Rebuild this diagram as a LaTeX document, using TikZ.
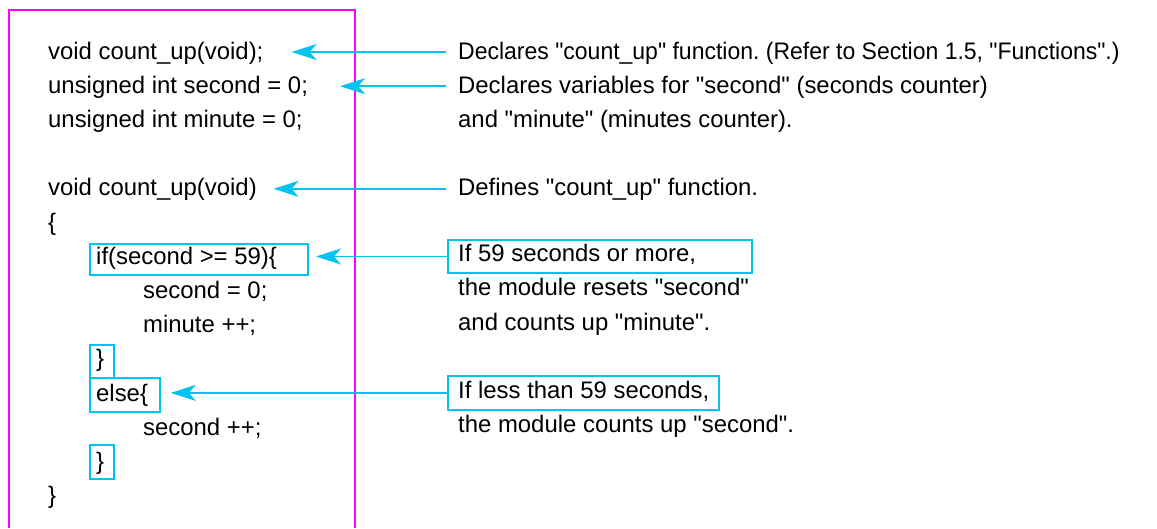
\documentclass[tikz,border=0pt]{standalone}
\usepackage{fontspec}
\setmainfont{Liberation Sans}[Ligatures=TeXOff]
\usetikzlibrary{arrows.meta}
\definecolor{cyanline}{RGB}{0,195,240}
\definecolor{framecol}{RGB}{255,0,255}
\frenchspacing
\begin{document}
\begin{tikzpicture}[x=1pt,y=-1pt,
  codeline/.style={anchor=west, inner xsep=0pt, inner ysep=0pt,
    text height=17pt, text depth=3pt, font=\fontsize{23.9}{28}\selectfont},
  note/.style={codeline, inner xsep=12pt},
  cbox/.style={draw=cyanline, line width=2pt, inner sep=0pt, anchor=north west},
  arr/.style={draw=cyanline, line width=1.5pt,
    -{Stealth[length=25pt,width=16pt,inset=7pt]}}]
\useasboundingbox (0,0) rectangle (1157,528);

% frame around the listing
\draw[framecol, line width=2pt] (9,528) -- (9,10) -- (355,10) -- (355,528);

% highlight boxes in the listing
\node[cbox, minimum width=218pt, minimum height=31.2pt] (ifbox) at (88.7,242.5) {};
\node[cbox, minimum width=24.3pt, minimum height=33.3pt] (close1) at (88.7,343.5) {};
\node[cbox, minimum width=70.6pt, minimum height=34pt] (elsebox) at (88.7,376.8) {};
\node[cbox, minimum width=24.3pt, minimum height=33.3pt] (close2) at (88.7,444.2) {};

% code lines
\node[codeline] (c0) at (48,52) {void count\_up(void);};
\node[codeline] (c1) at (48,86.2) {unsigned int second = 0;};
\node[codeline] (c2) at (48,120.4) {unsigned int minute = 0;};
\node[codeline] (c4) at (48,188.8) {void count\_up(void)};
\node[codeline] (c5) at (48,223) {\{};
\node[codeline] (c6) at (96,257.2) {if(second >= 59)\{};
\node[codeline] (c7) at (143,291.4) {second = 0;};
\node[codeline] (c8) at (143,325.6) {minute ++;};
\node[codeline] (c9) at (96,359.8) {\}};
\node[codeline] (c10) at (96,394) {else\{};
\node[codeline] (c11) at (143,428.2) {second ++;};
\node[codeline] (c12) at (96,462.4) {\}};
\node[codeline] (c13) at (48,496.6) {\}};

% explanations
\node[note] (d0) at (446,52) {\scalebox{0.962}[1]{Declares "count\_up" function. (Refer to Section 1.5, "Functions".)}};
\node[note] (d1) at (446,86.2) {Declares variables for "second" (seconds counter)};
\node[note] (d2) at (446,120.4) {and "minute" (minutes counter).};
\node[note] (d4) at (446,188.8) {Defines "count\_up" function.};
\node[cbox, minimum width=304pt, minimum height=33pt] (r6) at (447,239) {};
\node[note] (d6) at (446,254.7) {If 59 seconds or more,};
\node[note] (d7) at (446,288.9) {the module resets "second"};
\node[note] (d8) at (446,323.1) {and counts up "minute".};
\node[cbox, minimum width=270.7pt, minimum height=33.7pt] (r10) at (447,375) {};
\node[note] (d10) at (446,391.5) {If less than 59 seconds,};
\node[note] (d11) at (446,425.7) {the module counts up "second".};

% pointers from explanations to code
\draw[arr, shorten >=28pt] (d0.west) -- (c0.east);
\draw[arr, shorten >=32pt] (d1.west) -- (c1.east);
\draw[arr, shorten >=16.6pt] (d4.west) -- (c4.east);
\draw[arr, shorten >=7.3pt] (r6.west) -- (r6.west -| ifbox.east);
\draw[arr, shorten >=9.5pt] (r10.west) -- (r10.west -| elsebox.east);
\end{tikzpicture}
\end{document}
